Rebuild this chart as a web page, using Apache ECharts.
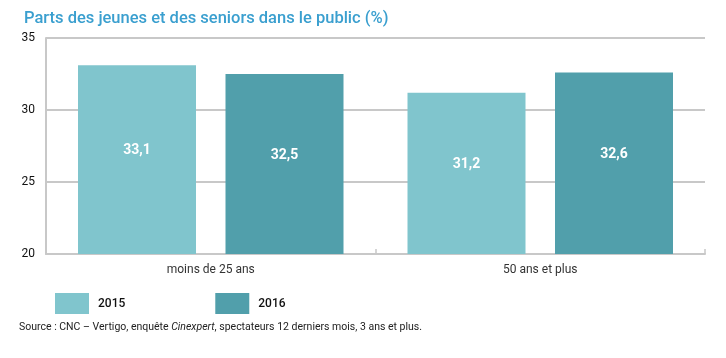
<!DOCTYPE html>
<html><head><meta charset="utf-8">
<script src="https://cdn.jsdelivr.net/npm/echarts@6/dist/echarts.min.js"></script>
<style>html,body{margin:0;padding:0;background:#fff}#c{width:726px;height:358px}</style>
</head><body><div id="c"></div>
<script>
const categories = ['moins de 25 ans', '50 ans et plus'];
const years = ['2015', '2016'];
const values2015 = [33.1, 31.2];
const values2016 = [32.5, 32.6];
const yTicks = [20, 25, 30, 35];

const chart = echarts.init(document.getElementById('c'));
const fmt = p => String(p.value).replace('.', ',');
const label = {show: true, position: 'inside', offset: [0, -9], color: '#fff', fontWeight: 'bold', fontSize: 14, fontFamily: 'Roboto', formatter: fmt};
chart.setOption({
  animation: false,
  title: {text: 'Parts des jeunes et des seniors dans le public (%)', left: 19, top: 5,
    textStyle: {color: '#3a9fcf', fontSize: 16.5, fontWeight: 500, fontFamily: 'Roboto'}},
  legend: {left: 50, top: 288, itemWidth: 34, itemHeight: 21, itemGap: 90,
    textStyle: {fontSize: 12, color: '#111', fontWeight: 500, fontFamily: 'Roboto', padding: [0,0,0,4]},
    data: years, icon: 'rect'},
  grid: {left: 46, right: 21, top: 38, bottom: 104},
  xAxis: {type: 'category', data: categories,
    axisLine: {show: true, lineStyle: {color: '#c8c8c8', width: 2}},
    axisTick: {show: true, inside: true, length: 5, lineStyle: {color: '#c8c8c8', width: 1.5}},
    axisLabel: {fontSize: 12, color: '#333', margin: 10, fontFamily: 'Roboto'}},
  yAxis: {type: 'value', min: yTicks[0], max: yTicks[yTicks.length-1], interval: 5,
    axisLine: {show: true, lineStyle: {color: '#c8c8c8', width: 2}},
    axisTick: {show: false},
    splitLine: {lineStyle: {color: '#c8c8c8', width: 2}},
    axisLabel: {fontSize: 12, color: '#111', margin: 11, fontFamily: 'Roboto'}},
  series: [
    {name: years[0], type: 'bar', data: values2015, barWidth: 118, barGap: '25%',
     itemStyle: {color: '#80c5cd'}, label: label},
    {name: years[1], type: 'bar', data: values2016, barWidth: 118,
     itemStyle: {color: '#519fab'}, label: label}
  ],
  graphic: [{type: 'text', left: 19, top: 322,
    style: {text: '{n|Source : CNC – Vertigo, enquête }{i|Cinexpert}{n|, spectateurs 12 derniers mois, 3 ans et plus.}',
      rich: {n: {fontSize: 10.5, fill: '#222', fontFamily: 'Roboto'}, i: {fontSize: 10.5, fill: '#222', fontStyle: 'italic', fontFamily: 'Roboto'}}}}]
});
</script></body></html>
